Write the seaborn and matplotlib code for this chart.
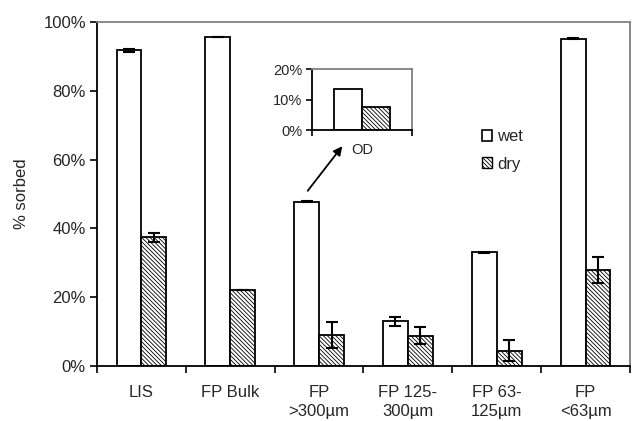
import numpy as np
import pandas as pd
import matplotlib
matplotlib.use("Agg")
import matplotlib.pyplot as plt
import seaborn as sns
from matplotlib.patches import Patch
from matplotlib.ticker import PercentFormatter, FixedLocator

# ---- data ----
categories = ["LIS", "FP Bulk", "FP\n>300µm", "FP 125-\n300µm", "FP 63-\n125µm", "FP\n<63µm"]
wet = [0.918, 0.955, 0.478, 0.130, 0.330, 0.952]
dry = [0.374, 0.220, 0.090, 0.088, 0.045, 0.278]
wet_err = [0.004, 0.0, 0.002, 0.013, 0.002, 0.002]
dry_err = [0.013, 0.0, 0.037, 0.024, 0.031, 0.038]
inset_cat = ["OD"]
inset_wet = [0.135]
inset_dry = [0.075]
conditions = ["wet", "dry"]

sns.set_theme(style="white")
plt.rcParams["font.family"] = ["Liberation Sans", "DejaVu Sans"]
plt.rcParams["hatch.linewidth"] = 0.6
plt.rcParams["hatch.color"] = "black"

HATCH = "\\" * 8
EDGE_LW = 1.3

df = pd.DataFrame({
    "site": categories * 2,
    "cond": ["wet"] * len(categories) + ["dry"] * len(categories),
    "value": wet + dry,
})
df_in = pd.DataFrame({
    "site": inset_cat * 2,
    "cond": ["wet"] * len(inset_cat) + ["dry"] * len(inset_cat),
    "value": inset_wet + inset_dry,
})

fig = plt.figure(figsize=(6.32, 4.21), dpi=100)
ax = fig.add_axes([0.1535, 0.1306, 0.8433, 0.8171])


def style_bars(axis, data):
    sns.barplot(data=data, x="site", y="value", hue="cond", hue_order=conditions,
                palette=["white", "white"], edgecolor="black", linewidth=EDGE_LW,
                width=0.56, errorbar=None, legend=False, ax=axis, saturation=1)
    for bar in axis.containers[1]:
        bar.set_hatch(HATCH)


def style_axis(axis, n, fs, ymax, ystep):
    axis.set_xlim(-0.5, n - 0.5)
    axis.set_ylim(0, ymax)
    axis.set_yticks(np.arange(0, ymax + 1e-9, ystep))
    axis.yaxis.set_major_formatter(PercentFormatter(1.0, decimals=0))
    axis.set_xticks(np.arange(-0.5, n, 1.0))
    axis.set_xticklabels([])
    axis.xaxis.set_minor_locator(FixedLocator(np.arange(n)))
    for s in ["left", "bottom"]:
        axis.spines[s].set_color("black")
        axis.spines[s].set_linewidth(1.3)
    for s in ["top", "right"]:
        axis.spines[s].set_color("#808080")
        axis.spines[s].set_linewidth(1.3)
    axis.tick_params(axis="both", which="major", direction="out", length=5,
                     width=1.2, color="black", labelsize=fs, pad=3,
                     left=True, bottom=True)
    axis.tick_params(axis="x", which="minor", length=0, labelsize=fs)
    axis.set_xlabel("")
    axis.set_ylabel("")


style_bars(ax, df)
style_axis(ax, len(categories), 12, 1.0, 0.2)
ax.set_xticks(np.arange(len(categories)), labels=categories, minor=True)
ax.tick_params(axis="x", which="minor", pad=13.5)
for lab in ax.get_xticklabels(minor=True):
    lab.set_linespacing(1.32)
ax.set_ylabel("% sorbed", fontsize=12, labelpad=10)

for cont, errs in zip(ax.containers[:2], [wet_err, dry_err]):
    xs = [b.get_x() + b.get_width() / 2 for b in cont]
    hs = [b.get_height() for b in cont]
    ax.errorbar(xs, hs, yerr=errs, fmt="none", ecolor="black",
                elinewidth=1.5, capsize=4, capthick=1.5, zorder=5)

# legend
handles = [Patch(facecolor="white", edgecolor="black", linewidth=1.2, label="wet"),
           Patch(facecolor="white", edgecolor="black", linewidth=1.0, hatch=HATCH, label="dry")]
ax.legend(handles=handles, loc="upper left", bbox_to_anchor=(0.762, 0.693),
          bbox_transform=fig.transFigure, frameon=False, fontsize=12,
          handlelength=0.65, handleheight=0.65, handletextpad=0.3,
          labelspacing=0.75, borderpad=0, borderaxespad=0)

# inset
axi = fig.add_axes([0.4937, 0.691, 0.158, 0.145])
style_bars(axi, df_in)
style_axis(axi, len(inset_cat), 10.5, 0.2, 0.1)
axi.set_xticks(np.arange(len(inset_cat)), labels=inset_cat, minor=True)
axi.tick_params(axis="x", which="minor", pad=9)
axi.tick_params(axis="both", which="major", length=4)
axi.patch.set_alpha(0)

# arrow from FP >300 bar to inset
fig.add_artist(matplotlib.patches.FancyArrowPatch(
    posA=(306 / 632, 1 - 193 / 421), posB=(344 / 632, 1 - 144 / 421),
    transform=fig.transFigure, arrowstyle="-|>", mutation_scale=13,
    color="black", lw=1.3))

fig.savefig("out.png", dpi=100)
